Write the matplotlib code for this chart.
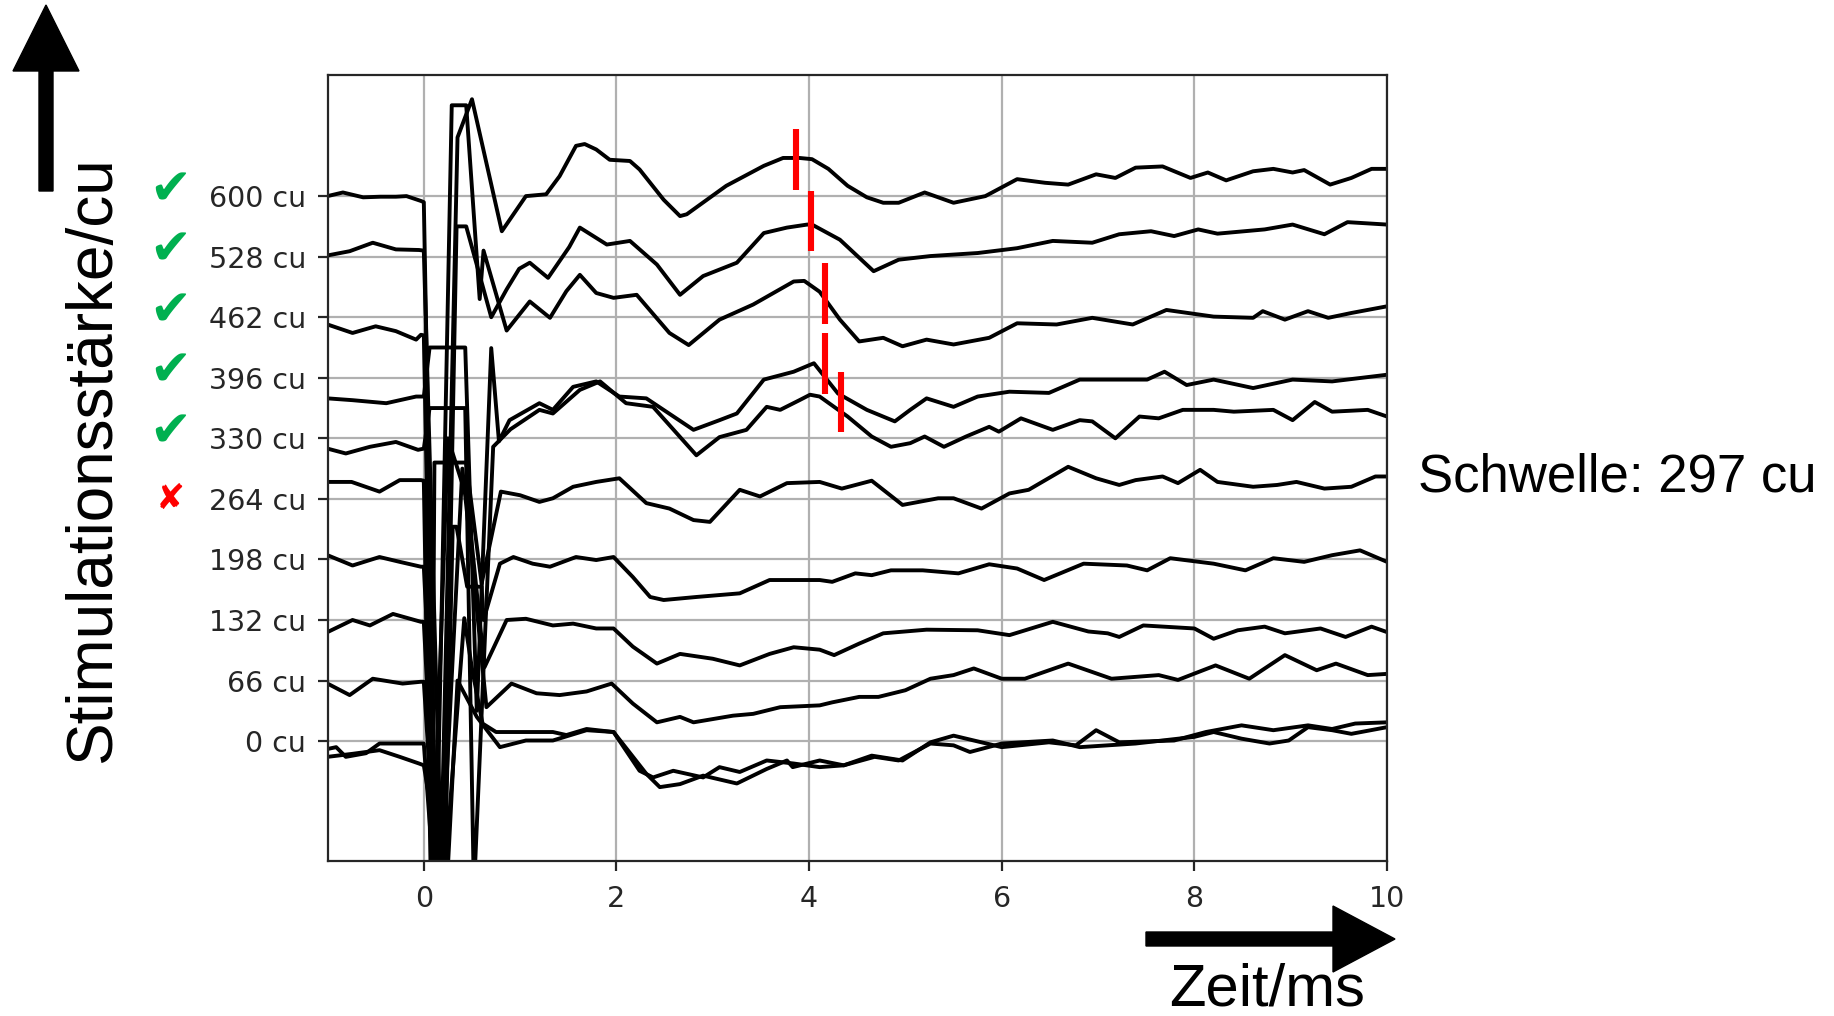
import matplotlib
matplotlib.use("Agg")
import matplotlib.pyplot as plt
from matplotlib.patches import FancyArrow
from matplotlib.transforms import Affine2D

# stimulation levels, top row first
levels = ["600 cu", "528 cu", "462 cu", "396 cu", "330 cu", "264 cu", "198 cu", "132 cu", "66 cu", "0 cu"]
response = ["yes", "yes", "yes", "yes", "yes", "no", None, None, None, None]
threshold = "Schwelle: 297 cu"

# recorded traces (time in ms, amplitude already offset to its row)
t_600 = [-1.0, -0.84, -0.63, -0.45, -0.29, -0.18, -0.03, 0.0, 0.15, 0.35, 0.5, 0.81, 1.06, 1.27, 1.41, 1.58, 1.67,
         1.79, 1.93, 2.14, 2.24, 2.49, 2.66, 2.73, 3.14, 3.53, 3.73, 3.9, 4.03, 4.2, 4.4, 4.6, 4.77, 4.93, 5.2, 5.5,
         5.83, 6.16, 6.45, 6.69, 6.98, 7.18, 7.39, 7.67, 7.96, 8.14, 8.33, 8.61, 8.82, 9.02, 9.14, 9.41, 9.63, 9.84, 10.0]
y_600 = [9.0, 9.06, 8.98, 8.99, 8.99, 9.0, 8.92, 8.9, -4.0, 9.97, 10.6, 8.42, 9.0, 9.03, 9.33, 9.83, 9.86,
         9.77, 9.6, 9.58, 9.44, 8.94, 8.67, 8.7, 9.17, 9.5, 9.63, 9.63, 9.61, 9.45, 9.17, 8.98, 8.89, 8.89, 9.06, 8.89,
         9.0, 9.28, 9.22, 9.19, 9.36, 9.30, 9.47, 9.49, 9.30, 9.39, 9.26, 9.41, 9.45, 9.39, 9.43, 9.19, 9.30, 9.45, 9.45]

t_528 = [-1.0, -0.77, -0.53, -0.29, -0.05, 0.0, 0.2, 0.34, 0.44, 0.7, 0.86, 0.99, 1.1, 1.29, 1.51, 1.62, 1.9, 2.14,
         2.42, 2.66, 2.9, 3.25, 3.53, 3.77, 3.98, 4.03, 4.32, 4.67, 4.93, 5.26, 5.75, 6.16, 6.53, 6.94, 7.22, 7.55,
         7.79, 8.04, 8.24, 8.73, 9.02, 9.35, 9.59, 10.0]
y_528 = [8.02, 8.09, 8.23, 8.12, 8.11, 8.1, -3.0, 8.5, 8.5, 7.0, 7.46, 7.8, 7.9, 7.65, 8.16, 8.48, 8.2, 8.26,
         7.87, 7.37, 7.68, 7.9, 8.39, 8.48, 8.53, 8.53, 8.28, 7.76, 7.95, 8.01, 8.06, 8.14, 8.26, 8.23, 8.37, 8.42,
         8.34, 8.45, 8.38, 8.45, 8.53, 8.37, 8.57, 8.53]

t_462 = [-1.0, -0.74, -0.5, -0.29, -0.08, -0.03, 0.0, 0.12, 0.29, 0.44, 0.58, 0.62, 0.86, 1.1, 1.31, 1.48, 1.62,
         1.79, 1.97, 2.21, 2.55, 2.75, 3.07, 3.42, 3.84, 3.95, 4.11, 4.32, 4.52, 4.77, 4.97, 5.22, 5.5, 5.87, 6.16,
         6.57, 6.94, 7.36, 7.71, 8.2, 8.61, 8.71, 8.94, 9.18, 9.39, 9.63, 10.0]
y_462 = [6.88, 6.74, 6.85, 6.77, 6.63, 6.71, 6.7, -3.0, 10.5, 10.5, 7.3, 8.1, 6.78, 7.26, 6.99, 7.43, 7.7,
         7.4, 7.32, 7.37, 6.74, 6.54, 6.96, 7.21, 7.59, 7.6, 7.42, 6.96, 6.6, 6.66, 6.52, 6.63, 6.55, 6.66, 6.9,
         6.88, 6.99, 6.88, 7.12, 7.01, 6.99, 7.1, 6.96, 7.1, 6.99, 7.07, 7.18]

t_396 = [-1.0, -0.74, -0.39, -0.08, 0.0, 0.06, 0.43, 0.55, 0.7, 0.78, 0.89, 1.2, 1.34, 1.55, 1.79, 2.03, 2.31, 2.8,
         3.07, 3.25, 3.53, 3.84, 4.05, 4.3, 4.6, 4.89, 5.05, 5.22, 5.5, 5.75, 6.08, 6.49, 6.81, 7.51, 7.69, 7.92,
         8.2, 8.61, 9.02, 9.43, 10.0]
y_396 = [5.66, 5.63, 5.58, 5.69, 5.69, 6.5, 6.5, 0.5, 6.49, 4.95, 5.3, 5.58, 5.47, 5.85, 5.94, 5.69, 5.66, 5.14,
         5.3, 5.41, 5.97, 6.1, 6.24, 5.74, 5.47, 5.28, 5.47, 5.66, 5.52, 5.69, 5.77, 5.75, 5.97, 5.97, 6.1, 5.88,
         5.97, 5.83, 5.97, 5.94, 6.05]

t_330 = [-1.0, -0.81, -0.56, -0.29, -0.06, 0.0, 0.06, 0.43, 0.52, 0.72, 0.9, 1.2, 1.34, 1.62, 1.83, 2.1, 2.38, 2.83,
         3.07, 3.35, 3.56, 3.7, 3.9, 4.01, 4.11, 4.4, 4.65, 4.85, 5.05, 5.2, 5.4, 5.63, 5.87, 5.97, 6.2, 6.53, 6.81,
         6.94, 7.18, 7.43, 7.63, 7.88, 8.2, 8.41, 8.82, 9.02, 9.25, 9.43, 9.8, 10.0]
y_330 = [4.83, 4.75, 4.86, 4.94, 4.81, 4.83, 5.5, 5.5, -2.5, 4.86, 5.15, 5.47, 5.41, 5.8, 5.94, 5.58, 5.52, 4.72,
         5.02, 5.14, 5.52, 5.47, 5.63, 5.72, 5.69, 5.36, 5.03, 4.86, 4.92, 5.03, 4.86, 5.03, 5.19, 5.11, 5.33, 5.14,
         5.30, 5.28, 5.0, 5.36, 5.33, 5.47, 5.47, 5.44, 5.47, 5.3, 5.6, 5.44, 5.47, 5.36]

t_264 = [-1.0, -0.75, -0.46, -0.25, -0.03, 0.0, 0.08, 0.11, 0.44, 0.6, 0.8, 1.0, 1.2, 1.34, 1.55, 1.79, 2.03, 2.31,
         2.55, 2.8, 2.97, 3.28, 3.49, 3.77, 4.11, 4.34, 4.65, 4.97, 5.34, 5.5, 5.79, 6.08, 6.28, 6.69, 6.98, 7.22,
         7.39, 7.67, 7.83, 8.06, 8.24, 8.61, 8.86, 9.06, 9.35, 9.63, 9.88, 10.0]
y_264 = [4.28, 4.28, 4.12, 4.31, 4.31, 4.3, -3.0, 4.6, 4.6, 2.6, 4.12, 4.06, 3.95, 4.01, 4.2, 4.28, 4.34, 3.93,
         3.84, 3.65, 3.62, 4.15, 4.04, 4.26, 4.28, 4.17, 4.3, 3.9, 4.01, 4.01, 3.84, 4.09, 4.15, 4.53, 4.34, 4.23,
         4.31, 4.37, 4.26, 4.48, 4.28, 4.2, 4.23, 4.28, 4.17, 4.2, 4.37, 4.37]

t_198 = [-1.0, -0.74, -0.46, -0.25, -0.03, 0.0, 0.2, 0.3, 0.34, 0.45, 0.6, 0.62, 0.79, 0.93, 1.13, 1.31, 1.58, 1.79,
         1.97, 2.17, 2.35, 2.49, 2.83, 3.28, 3.59, 4.11, 4.24, 4.48, 4.65, 4.85, 5.18, 5.55, 5.87, 6.16, 6.44, 6.85,
         7.3, 7.51, 7.75, 8.2, 8.53, 8.82, 9.14, 9.43, 9.72, 10.0]
y_198 = [3.07, 2.9, 3.04, 2.96, 2.88, 2.88, -3.5, 3.54, 3.54, 2.55, 2.55, 2.0, 2.93, 3.04, 2.93, 2.88, 3.04, 2.99,
         3.04, 2.71, 2.38, 2.33, 2.38, 2.44, 2.66, 2.66, 2.63, 2.77, 2.74, 2.82, 2.82, 2.77, 2.92, 2.85, 2.66, 2.93,
         2.9, 2.82, 3.02, 2.93, 2.82, 3.02, 2.96, 3.07, 3.15, 2.96]

t_132 = [-1.0, -0.74, -0.56, -0.32, -0.03, 0.0, 0.11, 0.25, 0.45, 0.63, 0.86, 1.06, 1.34, 1.55, 1.79, 1.97, 2.17,
         2.42, 2.66, 3.0, 3.28, 3.59, 3.84, 4.11, 4.26, 4.52, 4.77, 5.22, 5.75, 6.08, 6.53, 6.9, 7.1, 7.22, 7.47,
         8.0, 8.2, 8.45, 8.73, 8.94, 9.31, 9.57, 9.84, 10.0]
y_132 = [1.8, 2.0, 1.91, 2.1, 1.97, 1.97, -1.46, 5.0, 4.0, 1.22, 2.0, 2.02, 1.91, 1.94, 1.86, 1.86, 1.56,
         1.28, 1.44, 1.36, 1.25, 1.44, 1.55, 1.51, 1.42, 1.61, 1.78, 1.84, 1.83, 1.75, 1.97, 1.81, 1.78, 1.72, 1.91,
         1.86, 1.69, 1.83, 1.89, 1.78, 1.86, 1.72, 1.89, 1.8]

t_66 = [-1.0, -0.77, -0.53, -0.22, -0.03, 0.0, 0.16, 0.4, 0.5, 0.65, 0.91, 1.17, 1.41, 1.69, 1.95, 2.17, 2.42, 2.66,
        2.8, 3.21, 3.42, 3.7, 4.11, 4.24, 4.52, 4.72, 5.0, 5.26, 5.5, 5.71, 6.0, 6.24, 6.69, 7.14, 7.63, 7.83, 8.22,
        8.57, 8.94, 9.27, 9.47, 9.8, 10.0]
y_66 = [0.95, 0.76, 1.03, 0.95, 0.98, 0.98, -3.0, 4.5, 3.0, 0.56, 0.95, 0.79, 0.76, 0.82, 0.95, 0.62, 0.31, 0.4,
        0.31, 0.42, 0.45, 0.56, 0.59, 0.64, 0.73, 0.73, 0.84, 1.03, 1.09, 1.2, 1.03, 1.03, 1.28, 1.03, 1.09, 1.01, 1.25,
        1.03, 1.42, 1.17, 1.28, 1.09, 1.11]

t_0a = [-1.0, -0.91, -0.81, -0.6, -0.46, -0.02, 0.0, 0.1, 0.18, 0.42, 0.5, 0.61, 0.75, 1.34, 1.48, 1.69, 1.97, 2.31,
        2.45, 2.66, 2.9, 3.25, 3.56, 3.77, 3.83, 4.11, 4.36, 4.65, 4.97, 5.26, 5.5, 6.0, 6.49, 6.77, 6.98, 7.22,
        7.79, 8.12, 8.49, 8.82, 9.18, 9.43, 9.67, 10.0]
y_0a = [-0.13, -0.1, -0.26, -0.2, -0.04, -0.04, -0.04, -2.2, -3.0, 2.03, 1.2, 0.29, 0.15, 0.15, 0.1, 0.2, 0.15, -0.54,
        -0.76, -0.71, -0.57, -0.7, -0.46, -0.32, -0.43, -0.32, -0.4, -0.24, -0.32, -0.02, 0.09, -0.1, -0.02, -0.07, 0.18,
        -0.02, 0.01, 0.15, 0.26, 0.18, 0.26, 0.2, 0.29, 0.31]

t_0b = [-1.0, -0.74, -0.46, -0.25, -0.05, 0.0, 0.11, 0.22, 0.35, 0.55, 0.79, 1.06, 1.34, 1.69, 1.97, 2.24, 2.38, 2.59,
        2.9, 3.07, 3.28, 3.56, 3.84, 4.11, 4.36, 4.68, 4.93, 5.26, 5.5, 5.67, 6.0, 6.53, 6.81, 7.39, 8.0, 8.2, 8.49,
        8.78, 8.98, 9.18, 9.43, 9.63, 10.0]
y_0b = [-0.26, -0.21, -0.15, -0.26, -0.37, -0.4, -1.46, -3.0, 1.0, 0.4, -0.1, 0.01, 0.01, 0.18, 0.15, -0.49, -0.6, -0.49,
        -0.6, -0.43, -0.51, -0.32, -0.37, -0.43, -0.4, -0.26, -0.32, -0.04, -0.07, -0.18, -0.04, 0.01, -0.1, -0.04, 0.07,
        0.15, 0.04, -0.04, 0.01, 0.23, 0.18, 0.12, 0.23]

# marked response latencies (ms) and their row level
peak_t = [3.86, 4.02, 4.16, 4.16, 4.33]
peak_y = [9.6, 8.59, 7.39, 6.24, 5.6]

traces = [(t_600, y_600), (t_528, y_528), (t_462, y_462), (t_396, y_396), (t_330, y_330), (t_264, y_264),
          (t_198, y_198), (t_132, y_132), (t_66, y_66), (t_0a, y_0a), (t_0b, y_0b)]

W, H = 1834, 1016
fig = plt.figure(figsize=(W / 100, H / 100), dpi=100)
ax = fig.add_axes([327.5 / W, 1 - 861 / H, (1387 - 327.5) / W, (861 - 75) / H])

for t, y in traces:
    ax.plot(t, y, color="black", lw=2.8, solid_joinstyle="round", solid_capstyle="round")

ax.vlines(peak_t, [p - 0.5 for p in peak_y], [p + 0.5 for p in peak_y], color="#ff0000", lw=4.4, zorder=5)

rows = list(range(len(levels)))[::-1]
ax.set_xlim(-1, 10)
ax.set_ylim(-1.98, 11.0)
ax.set_xticks([0, 2, 4, 6, 8, 10])
ax.set_yticks(rows)
ax.set_yticklabels(levels)
ax.tick_params(labelsize=20.5, length=7.5, width=1.6, colors="#262626")
ax.tick_params(axis="x", pad=10)
ax.tick_params(axis="y", pad=8)
ax.grid(True, color="#b0b0b0", lw=1.6)
ax.set_axisbelow(True)
for s in ax.spines.values():
    s.set_linewidth(1.6)
    s.set_color("#262626")

# tick / cross in front of each tested level
for r, resp in zip(rows, response):
    if resp == "yes":
        ax.text(-0.1487, r + 0.1, "\u2714", transform=ax.get_yaxis_transform(), color="#00b050",
                fontsize=36, ha="center", va="center")
    elif resp == "no":
        ax.text(-0.1487, r, "\u2718", transform=ax.get_yaxis_transform(), color="#ff0000",
                fontsize=25, ha="center", va="center")

# big axis arrows, given in pixel units
px = Affine2D().scale(1 / W, 1 / H) + fig.transFigure
fig.add_artist(FancyArrow(46, H - 191, 0, 186, width=14, head_width=66, head_length=66,
                          length_includes_head=True, color="black", transform=px))
fig.add_artist(FancyArrow(1146, H - 939, 249, 0, width=14, head_width=66, head_length=62,
                          length_includes_head=True, color="black", transform=px))

fig.text(93 / W, 1 - 460 / H, "Stimulationsstärke/cu", rotation=90, ha="center", va="center",
         fontsize=46, family="Liberation Sans")
fig.text(1267 / W, 1 - 1005 / H, "Zeit/ms", ha="center", va="baseline", fontsize=43, family="Liberation Sans")
fig.text(1418 / W, 1 - 477 / H, threshold, ha="left", va="center", fontsize=38, family="Liberation Sans")

fig.savefig("out.png", dpi=100, facecolor="white")
